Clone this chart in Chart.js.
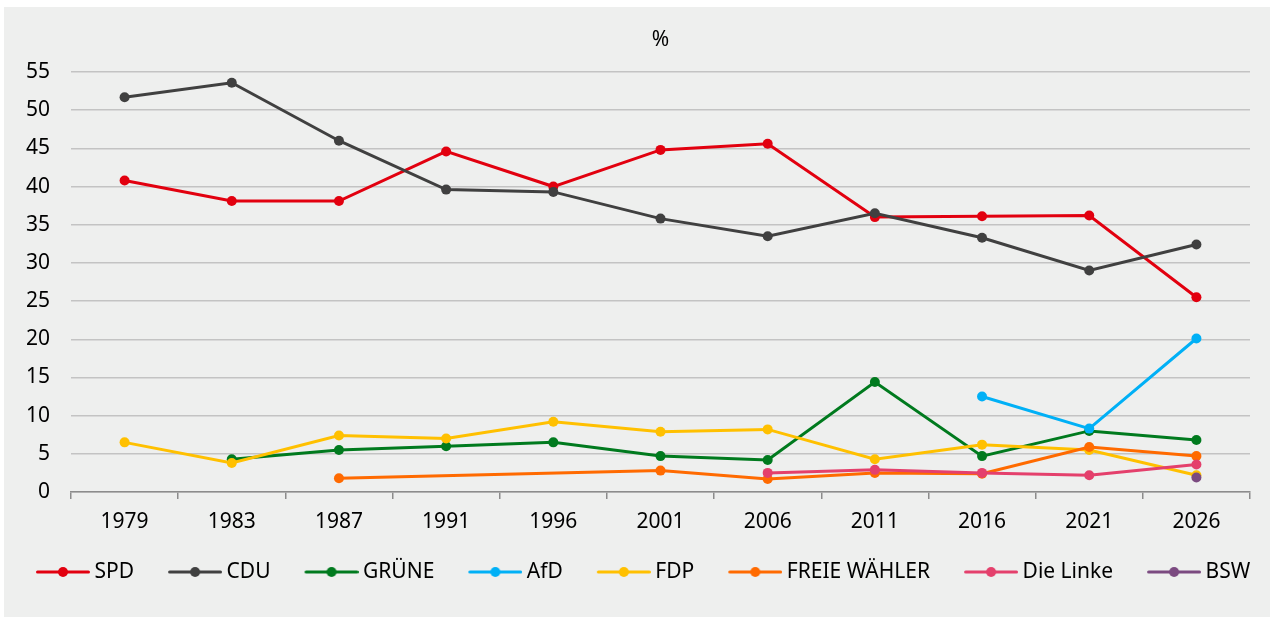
<!DOCTYPE html>
<html>
<head>
<meta charset="utf-8">
<script src="https://cdn.jsdelivr.net/npm/chart.js@4.4.1/dist/chart.umd.min.js"></script>
<style>
  html, body { margin: 0; padding: 0; background: #fff; }
  #wrap { position: absolute; left: 4px; top: 7px; width: 1266px; height: 610px; background: #eeefee; }
</style>
</head>
<body>
<div id="wrap"><canvas id="chart"></canvas></div>
<script>
// Landtagswahl results, % of votes
const years = ['1979', '1983', '1987', '1991', '1996', '2001', '2006', '2011', '2016', '2021', '2026'];
const spd   = [40.8, 38.1, 38.1, 44.6, 40.0, 44.8, 45.6, 36.0, 36.1, 36.2, 25.5];
const cdu   = [51.7, 53.6, 46.0, 39.6, 39.3, 35.8, 33.5, 36.5, 33.3, 29.0, 32.4];
const gruene = [null, 4.3, 5.5, 6.0, 6.5, 4.7, 4.2, 14.4, 4.7, 8.0, 6.8];
const afd   = [null, null, null, null, null, null, null, null, 12.5, 8.3, 20.1];
const fdp   = [6.5, 3.8, 7.4, 7.0, 9.2, 7.9, 8.2, 4.3, 6.2, 5.5, 2.2];
const freieWaehler = [null, null, 1.8, null, null, 2.8, 1.7, 2.5, 2.4, 5.9, 4.7];
const linke = [null, null, null, null, null, null, 2.5, 2.9, 2.5, 2.2, 3.6];
const bsw   = [null, null, null, null, null, null, null, null, null, null, 1.9];

const yTicks = [0, 5, 10, 15, 20, 25, 30, 35, 40, 45, 50, 55];

const FONT = '"Noto Sans", "Open Sans", sans-serif';
const FONT_SIZE = 21;

const series = [
  { label: 'SPD',          data: spd,          color: '#e2000f' },
  { label: 'CDU',          data: cdu,          color: '#404040' },
  { label: 'GRÜNE',        data: gruene,       color: '#007a1e' },
  { label: 'AfD',          data: afd,          color: '#00b0f6' },
  { label: 'FDP',          data: fdp,          color: '#ffc000' },
  { label: 'FREIE WÄHLER', data: freieWaehler, color: '#ff6a00', spanGaps: true },
  { label: 'Die Linke',    data: linke,        color: '#e4406c' },
  { label: 'BSW',          data: bsw,          color: '#7b4a80' },
];

// Line-with-dot swatch like the Excel legend. Chart.js centres the image on
// the legend box, so the visible line sits in the right part of a wider
// transparent canvas to get Excel's wide gap between entries.
function legendSwatch(color) {
  const c = document.createElement('canvas');
  c.width = 82; c.height = 12;
  const g = c.getContext('2d');
  g.strokeStyle = color;
  g.lineWidth = 3;
  g.lineCap = 'round';
  g.beginPath();
  g.moveTo(29.5, 6); g.lineTo(80.5, 6);
  g.stroke();
  g.fillStyle = color;
  g.beginPath();
  g.arc(55, 6, 5, 0, Math.PI * 2);
  g.fill();
  return c;
}
const swatches = series.map((s) => legendSwatch(s.color));

new Chart(document.getElementById('chart'), {
  type: 'line',
  data: {
    labels: years,
    datasets: series.map((s, i) => ({
      label: s.label,
      data: s.data,
      borderColor: s.color,
      backgroundColor: s.color,
      borderWidth: 3,
      pointRadius: 5,
      pointBorderWidth: 0,
      pointBackgroundColor: s.color,
      spanGaps: Boolean(s.spanGaps),
      tension: 0,
      order: series.length - i, // later parties drawn on top
    })),
  },
  options: {
    responsive: true,
    maintainAspectRatio: false,
    animation: false,
    layout: { padding: { left: -2, right: 0, top: 0, bottom: 24.5 } },
    plugins: {
      title: {
        display: true,
        fullSize: false, // centre over the plot, not the whole panel
        text: '%',
        color: '#000',
        font: { family: FONT, size: FONT_SIZE, weight: 'normal' },
        padding: { top: 20.4, bottom: 19.4 },
      },
      tooltip: { enabled: false },
      legend: {
        position: 'bottom',
        align: 'start',
        labels: {
          color: '#000',
          font: { family: FONT, size: FONT_SIZE },
          usePointStyle: true,
          pointStyleWidth: 70,
          padding: 12,
          sort: (a, b) => a.datasetIndex - b.datasetIndex,
          generateLabels: (chart) => {
            const items = Chart.defaults.plugins.legend.labels.generateLabels(chart);
            items.forEach((item) => { item.pointStyle = swatches[item.datasetIndex]; });
            return items;
          },
        },
      },
    },
    scales: {
      x: {
        offset: true,
        afterFit: (scale) => { scale.height = 57.5; },
        grid: { offset: true, drawOnChartArea: false, drawTicks: true, tickLength: 7, color: '#8c8c8c', lineWidth: 1.5 },
        border: { display: true, color: '#8c8c8c', width: 1.5 },
        ticks: { color: '#000', font: { family: FONT, size: FONT_SIZE }, padding: 10.5, maxRotation: 0 },
      },
      y: {
        min: 0,
        max: 55,
        afterFit: (scale) => { scale.width = 69; },
        afterBuildTicks: (scale) => { scale.ticks = yTicks.map((v) => ({ value: v })); },
        grid: { color: '#c3c3c3', lineWidth: 1.5, drawTicks: false },
        border: { display: false },
        ticks: { color: '#000', font: { family: FONT, size: FONT_SIZE }, padding: 21 },
      },
      // empty right-hand strip so the plot stops short of the panel edge
      // while the legend keeps the full width
      spacer: {
        type: 'linear',
        position: 'right',
        display: true,
        afterFit: (scale) => { scale.width = 20; },
        grid: { display: false },
        border: { display: false },
        ticks: { display: false },
      },
    },
  },
});
</script>
</body>
</html>
